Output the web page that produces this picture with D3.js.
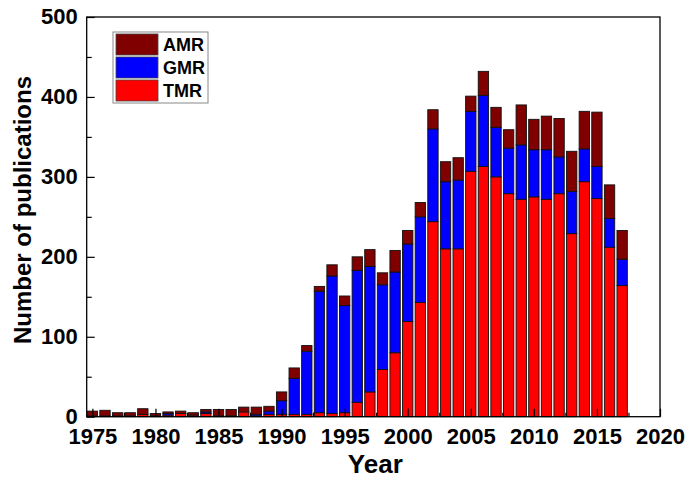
<!DOCTYPE html>
<html>
<head>
<meta charset="utf-8">
<script src="https://cdn.jsdelivr.net/npm/d3@7"></script>
<style>
  body { margin: 0; background: #fff; }
  svg { display: block; }
  text { font-family: "Liberation Sans", Arial, sans-serif; font-weight: bold; }
</style>
</head>
<body>
<svg id="chart" width="699" height="480"></svg>
<script>
const years = [1975,1976,1977,1978,1979,1980,1981,1982,1983,1984,1985,1986,1987,1988,1989,
  1990,1991,1992,1993,1994,1995,1996,1997,1998,1999,2000,2001,2002,2003,2004,2005,2006,2007,
  2008,2009,2010,2011,2012,2013,2014,2015,2016,2017];
const TMR = [1,1,1,1,3,1,2,4,2,4,1,1,6,1,3,
  3,3,3,5,4,5,18,31,59,80,119,143,244,210,210,307,313,300,
  279,272,275,272,279,229,294,273,212,164];
const GMR = [0,0,0,0,0,0,2,0,0,2,0,0,0,2,4,
  17,45,79,152,172,134,165,157,106,101,97,107,116,84,86,75,89,62,
  57,68,59,62,46,53,41,40,36,33];
const AMR = [6,7,4,4,7,3,2,3,3,3,8,8,6,9,6,
  11,13,7,6,14,12,17,21,15,27,17,18,24,25,28,19,30,25,
  23,50,38,42,48,50,47,68,42,36];
const seriesNames = ["TMR","GMR","AMR"];
const colors = {AMR: "#800000", GMR: "#0000ff", TMR: "#ff0000"};
const yMajorTicks = [0,100,200,300,400,500];
const yMinorTicks = [50,150,250,350,450];
const xMajorTicks = [1975,1980,1985,1990,1995,2000,2005,2010,2015,2020];
const xMinorTicks = [1977.5,1982.5,1987.5,1992.5,1997.5,2002.5,2007.5,2012.5,2017.5];
const legendOrder = ["AMR","GMR","TMR"];

const rows = years.map((y,i) => ({year: y, TMR: TMR[i], GMR: GMR[i], AMR: AMR[i]}));

const svg = d3.select("#chart");
const L = 86.7, R = 660, T = 17, B = 416.7;
const x = d3.scaleLinear().domain([1974.55, 2020]).range([L, R]);
const y = d3.scaleLinear().domain([0, 500]).range([B, T]);
const barW = 0.82;

const stack = d3.stack().keys(seriesNames)(rows);

const g = svg.append("g");
stack.forEach(s => {
  g.append("g").selectAll("rect").data(s).join("rect")
    .attr("x", d => x(d.data.year - barW/2))
    .attr("width", d => x(d.data.year + barW/2) - x(d.data.year - barW/2))
    .attr("y", d => y(d[1]))
    .attr("height", d => Math.max(0, y(d[0]) - y(d[1])))
    .attr("fill", colors[s.key])
    .attr("stroke", "#111")
    .attr("stroke-width", 0.9);
});

// frame
svg.append("rect").attr("x", L).attr("y", T).attr("width", R - L).attr("height", B - T)
  .attr("fill", "none").attr("stroke", "#000").attr("stroke-width", 1.3);

// y axis
const yAxis = svg.append("g").attr("transform", `translate(${L},0)`)
  .call(d3.axisLeft(y).tickValues(yMajorTicks).tickSize(-8).tickPadding(9).tickFormat(d3.format("d")));
yAxis.select(".domain").remove();
yAxis.selectAll("text").style("font-size", "22px").attr("fill", "#000").attr("dy", "0.3em");
yAxis.selectAll("line").attr("stroke-width", 1.2);
const yMinor = svg.append("g").attr("transform", `translate(${L},0)`)
  .call(d3.axisLeft(y).tickValues(yMinorTicks).tickSize(-5).tickFormat(""));
yMinor.select(".domain").remove();
yMinor.selectAll("line").attr("stroke-width", 1.2);

// x axis
const xAxis = svg.append("g").attr("transform", `translate(0,${B})`)
  .call(d3.axisBottom(x).tickValues(xMajorTicks).tickSize(-8).tickPadding(12).tickFormat(d3.format("d")));
xAxis.select(".domain").remove();
xAxis.selectAll("text").style("font-size", "22px").attr("fill", "#000");
xAxis.selectAll("line").attr("stroke-width", 1.2);
const xMinor = svg.append("g").attr("transform", `translate(0,${B})`)
  .call(d3.axisBottom(x).tickValues(xMinorTicks).tickSize(-4).tickFormat(""));
xMinor.select(".domain").remove();
xMinor.selectAll("line").attr("stroke-width", 1.2);

// axis titles
svg.append("text").attr("x", (L + R) / 2 + 2).attr("y", 473).attr("text-anchor", "middle")
  .style("font-size", "26px").text("Year");
svg.append("text").attr("transform", `translate(31,210) rotate(-90)`)
  .attr("text-anchor", "middle").style("font-size", "24px").text("Number of publications");

// legend
const lg = svg.append("g");
lg.append("rect").attr("x", 113).attr("y", 32).attr("width", 95).attr("height", 71)
  .attr("fill", "#fff").attr("stroke", "#888").attr("stroke-width", 1);
legendOrder.forEach((k, i) => {
  const yy = 34 + i * 23;
  lg.append("rect").attr("x", 116).attr("y", yy).attr("width", 42).attr("height", 21)
    .attr("fill", colors[k]).attr("stroke", "#444").attr("stroke-width", 0.8);
  lg.append("text").attr("x", 163).attr("y", yy + 17).style("font-size", "18px").text(k);
});
</script>
</body>
</html>
